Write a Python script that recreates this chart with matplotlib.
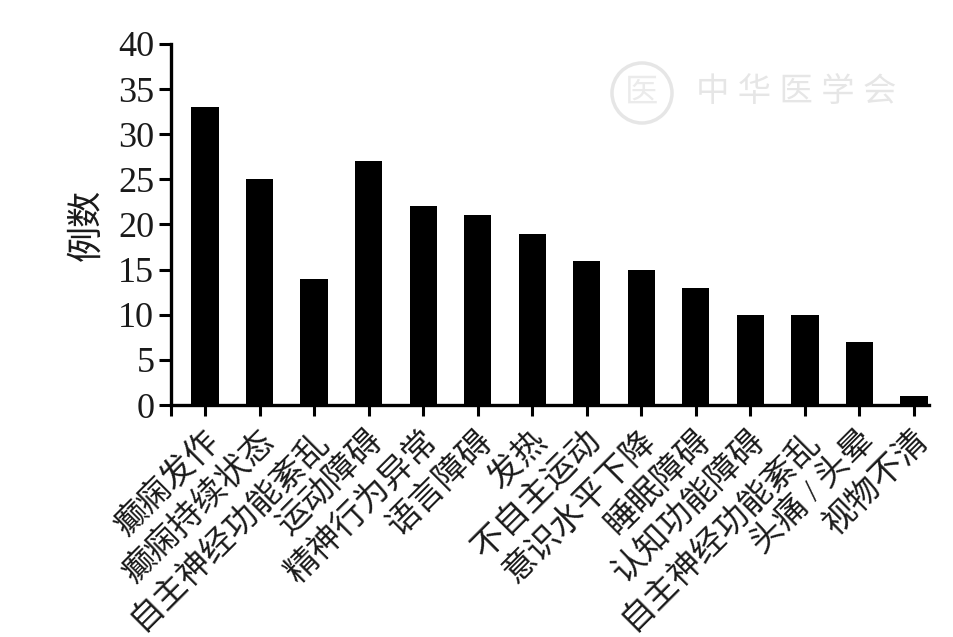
import matplotlib
matplotlib.use('Agg')
import matplotlib.pyplot as plt
from matplotlib.patches import Ellipse
from matplotlib.transforms import ScaledTranslation

plt.rcParams['font.family'] = ['Liberation Serif', 'Noto Sans CJK SC', 'DejaVu Sans']

categories = ['癫痫发作', '癫痫持续状态', '自主神经功能紊乱', '运动障碍', '精神行为异常',
              '语言障碍', '发热', '不自主运动', '意识水平下降', '睡眠障碍',
              '认知功能障碍', '自主神经功能紊乱', '头痛 / 头晕', '视物不清']
cases = [33, 25, 14, 27, 22, 21, 19, 16, 15, 13, 10, 10, 7, 1]
y_ticks = [0, 5, 10, 15, 20, 25, 30, 35, 40]

W, H = 954, 637
fig = plt.figure(figsize=(W / 100, H / 100), dpi=100)
ax = fig.add_axes([171 / W, 1 - 405 / H, (929 - 171) / W, (405 - 44) / H])

pos = list(range(len(categories)))
ax.bar(pos, cases, width=0.5, color='black')

x_start = -0.624
ax.set_xlim(x_start, 13.275)
ax.set_ylim(0, 40)

# first tick sits at the axis origin and has no label
ax.set_xticks([x_start] + pos)
ax.set_xticklabels([''] + categories, rotation=45, ha='right', va='top',
                   rotation_mode='anchor', fontsize=24, color='#1a1a1a')
ax.set_yticks(y_ticks)
ax.tick_params(axis='y', labelsize=26, width=2.2, length=9, pad=3, labelcolor='#1a1a1a')
ax.tick_params(axis='x', width=2.2, length=8, pad=5)
ax.set_ylabel('例数', fontsize=26, color='#1a1a1a', labelpad=10)

# nudge the rotated labels a little
shift = ScaledTranslation(-1 / 100, -2 / 100, fig.dpi_scale_trans)
for lab in ax.get_xticklabels():
    lab.set_transform(lab.get_transform() + shift)

for s in ['top', 'right']:
    ax.spines[s].set_visible(False)
for s in ['left', 'bottom']:
    ax.spines[s].set_linewidth(2.4)

# watermark
fig.add_artist(Ellipse((642 / W, 1 - 93 / H), 60 / W, 60 / H, transform=fig.transFigure,
                       fill=False, ec='#e6e6e6', lw=2.5))
fig.text(642 / W, 1 - 93 / H, '医', fontsize=24, color='#ebebeb', ha='center', va='center')
fig.text(796 / W, 1 - 93 / H, '中 华 医 学 会', fontsize=24, color='#e6e6e6',
         ha='center', va='center')

fig.savefig('out.png', dpi=100)
